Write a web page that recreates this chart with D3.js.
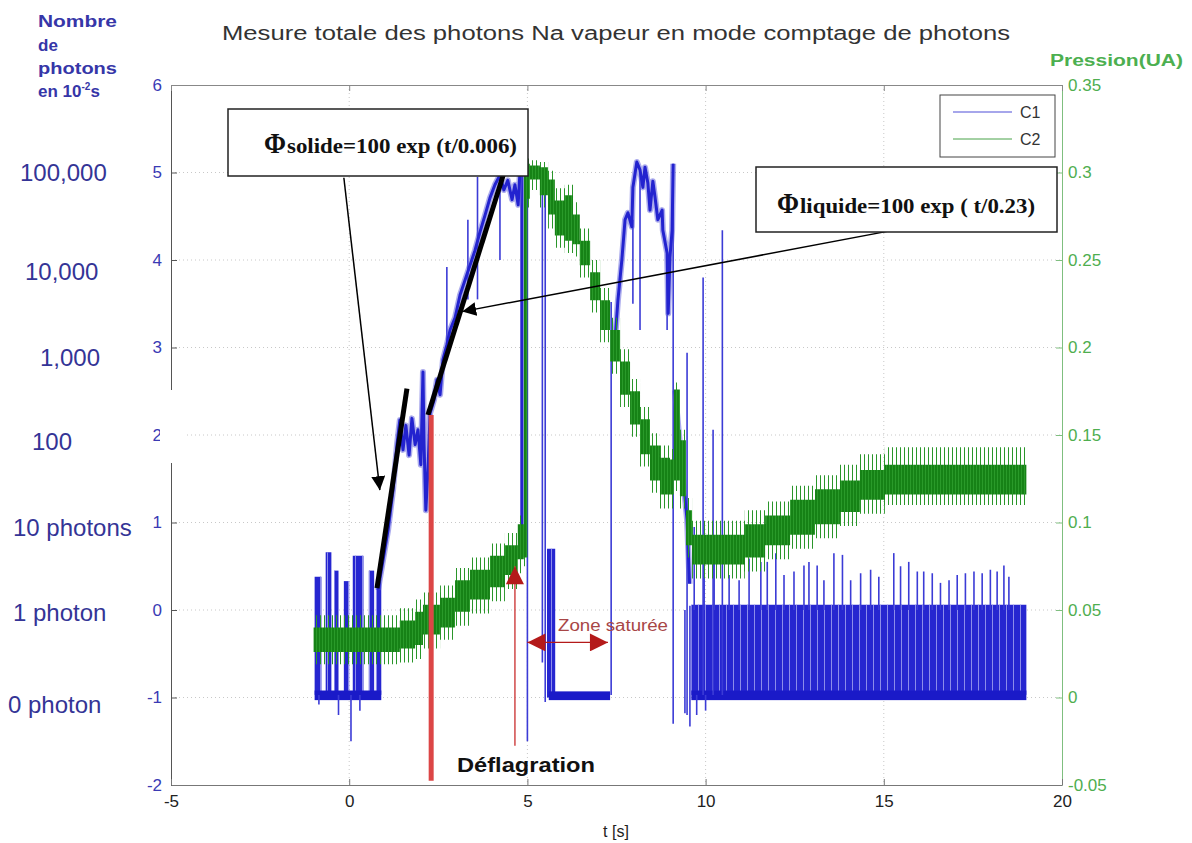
<!DOCTYPE html>
<html><head><meta charset="utf-8">
<script src="https://cdn.jsdelivr.net/npm/d3@7/dist/d3.min.js"></script>
<style>body{margin:0;background:#fff;} svg{display:block;font-family:"Liberation Sans",Arial,sans-serif;}</style>
</head><body><svg id="c" width="1192" height="843"></svg>
<script>
// ---------------- DATA ----------------
const title = "Mesure totale des photons Na vapeur en mode comptage de photons";
const xTicks = [-5, 0, 5, 10, 15, 20];
const yLeftTicks = [-2, -1, 0, 1, 2, 3, 4, 5, 6];
const yRightTicks = [-0.05, 0, 0.05, 0.1, 0.15, 0.2, 0.25, 0.3, 0.35];
const yRightLabels = ["-0.05", "0", "0.05", "0.1", "0.15", "0.2", "0.25", "0.3", "0.35"];
const photonLabels = ["100,000", "10,000", "1,000", "100", "10 photons", "1 photon", "0 photon"];
const photonLevels = [5, 4, 3, 2, 1, 0, -1];
const seriesNames = ["C1", "C2"];

// C2 (pressure, right axis): stepped band envelope
const c2Time = [-1.0, 1.42, 1.85, 2.07, 2.55, 2.97, 3.39, 3.95, 4.37, 4.73, 4.9, 5.0, 5.07, 5.35, 5.58, 5.77, 6.05, 6.28, 6.47, 6.76, 7.04, 7.32, 7.6, 7.88, 8.16, 8.44, 8.72, 9.0, 9.11, 9.28, 9.45, 9.62, 10.4, 11.1, 11.67, 12.37, 13.07, 13.77, 14.33, 15.03, 19.0];
const c2Low  = [0.026, 0.028, 0.030, 0.036, 0.040, 0.049, 0.056, 0.063, 0.070, 0.079, 0.080, 0.285, 0.296, 0.287, 0.276, 0.264, 0.261, 0.259, 0.247, 0.227, 0.210, 0.192, 0.173, 0.156, 0.139, 0.124, 0.116, 0.116, 0.124, 0.115, 0.087, 0.076, 0.076, 0.080, 0.087, 0.093, 0.099, 0.106, 0.113, 0.116, 0.117];
const c2High = [0.040, 0.044, 0.049, 0.053, 0.057, 0.067, 0.073, 0.081, 0.087, 0.099, 0.300, 0.305, 0.304, 0.303, 0.296, 0.284, 0.287, 0.276, 0.261, 0.243, 0.227, 0.210, 0.192, 0.175, 0.159, 0.144, 0.137, 0.136, 0.176, 0.147, 0.107, 0.093, 0.093, 0.099, 0.104, 0.113, 0.119, 0.124, 0.130, 0.133, 0.133];
const c2WhiskLow  = [0.019, 0.020, 0.022, 0.028, 0.033, 0.041, 0.048, 0.055, 0.062, 0.071, 0.075, 0.280, 0.290, 0.280, 0.268, 0.257, 0.254, 0.252, 0.240, 0.220, 0.203, 0.185, 0.166, 0.149, 0.132, 0.117, 0.108, 0.108, 0.118, 0.108, 0.080, 0.068, 0.068, 0.072, 0.079, 0.085, 0.091, 0.098, 0.105, 0.110, 0.111];
const c2WhiskHigh = [0.047, 0.051, 0.056, 0.060, 0.064, 0.074, 0.080, 0.088, 0.094, 0.104, 0.304, 0.308, 0.307, 0.306, 0.301, 0.291, 0.293, 0.283, 0.268, 0.250, 0.234, 0.217, 0.199, 0.182, 0.166, 0.151, 0.144, 0.142, 0.180, 0.153, 0.114, 0.101, 0.101, 0.107, 0.112, 0.121, 0.127, 0.133, 0.139, 0.143, 0.143];

// C1 (photon counts, left axis, log scale units)
// dense bursts: [tStart, tEnd, low, high]
const c1Bursts = [
  [-0.97, -0.78, -0.97, 0.38], [-0.66, -0.50, -0.97, 0.66], [-0.42, -0.30, -0.97, 0.45],
  [-0.15, 0.00, -0.97, 0.33], [0.10, 0.40, -0.97, 0.62], [0.55, 0.70, -0.97, 0.45],
  [0.75, 0.90, -0.97, 0.35], [4.80, 5.00, 0.75, 5.0], [5.55, 5.78, -1.0, 0.7],
  [9.60, 19.0, -0.97, 0.06]
];
// baselines (0 photon level): [tStart, tEnd, low, high]
const c1Bases = [[-0.97, 0.90, -1.03, -0.92], [5.60, 7.32, -1.03, -0.93], [9.60, 19.0, -1.03, -0.92]];
// single vertical spikes: [t, low, high]
const c1Spikes = [
  [-0.85, -1.08, -0.97], [-0.3, -1.2, -0.97], [0.05, -1.5, -0.97], [0.3, -1.15, -0.97],
  [2.74, 2.97, 3.92], [3.33, 3.55, 4.46], [3.6, 3.55, 4.95], [4.23, 4.0, 4.95],
  [5.0, -1.5, 5.0], [5.42, -0.6, 5.0], [5.5, -1.05, 4.9], [7.35, -0.97, 3.52],
  [7.96, 3.5, 4.46], [8.16, 3.2, 5.03], [8.92, 3.2, 4.08], [9.09, -1.3, 5.1],
  [9.48, -1.2, 2.94], [9.93, -0.97, 3.8], [10.21, -0.97, 2.06], [10.47, -0.97, 4.34],
  [9.42, -1.18, 0.0], [9.56, -1.33, 0.05], [9.75, -1.2, -0.97], [10.0, -1.15, -0.97],
  [9.68, 0, 0.95], [9.96, 0, 0.84], [10.24, 0, 0.69], [10.66, 0, 0.40], [10.94, 0, 0.34],
  [11.22, 0, 0.59], [11.55, 0, 0.55], [11.73, 0, 0.55], [11.97, 0, 0.65], [12.2, 0, 0.40],
  [12.48, 0, 0.44], [12.76, 0, 0.51], [12.9, 0, 0.55], [13.13, 0, 0.51], [13.32, 0, 0.34],
  [13.6, 0, 0.65], [13.84, 0, 0.63], [14.07, 0, 0.34], [14.35, 0, 0.42], [14.63, 0, 0.46],
  [14.86, 0, 0.38], [15.28, 0, 0.65], [15.47, 0, 0.50], [15.7, 0, 0.55], [15.94, 0, 0.44],
  [16.12, 0, 0.44], [16.36, 0, 0.42], [16.59, 0, 0.31], [16.83, 0, 0.34], [17.06, 0, 0.40],
  [17.29, 0, 0.42], [17.53, 0, 0.44], [17.76, 0, 0.42], [17.99, 0, 0.46], [18.18, 0, 0.44],
  [18.37, 0, 0.51], [18.51, 0, 0.38]
];
// continuous trace parts: [t, value]
const c1Rise = [[0.81,0.23],[0.95,0.57],[1.09,0.91],[1.23,1.37],[1.34,1.89],[1.42,2.17],[1.51,1.83],[1.59,2.11],[1.68,1.77],[1.76,2.19],[1.85,1.89],[1.93,2.06],[2.01,1.66],[2.07,2.72],[2.1,1.9],[2.15,1.14],[2.21,1.6],[2.27,2.25],[2.38,2.4],[2.46,2.63],[2.55,2.46],[2.63,2.86],[2.74,3.03],[2.83,3.2],[2.97,3.34],[3.11,3.6],[3.25,3.77],[3.39,3.94],[3.53,4.11],[3.67,4.32],[3.81,4.51],[3.95,4.71],[4.09,4.86],[4.23,4.97],[4.34,4.8],[4.45,4.91],[4.57,4.69],[4.65,4.86],[4.74,4.63],[4.79,5.0]];
const c1Hump = [[7.46,3.09],[7.54,3.54],[7.65,4.0],[7.74,4.46],[7.82,4.54],[7.93,4.38],[7.96,4.83],[8.07,5.12],[8.16,5.03],[8.24,4.83],[8.3,5.06],[8.38,4.88],[8.44,4.57],[8.52,4.9],[8.58,4.72],[8.66,4.46],[8.78,4.57],[8.8,4.34],[8.92,4.08],[8.95,3.39],[9.0,4.03],[9.06,4.34],[9.09,5.1]];
const c1Fall = [[9.14,2.51],[9.3,1.8],[9.48,1.03],[9.55,0.3]];

// ---------------- LAYOUT ----------------
const svg = d3.select("#c");
const L = 171, R = 1062, T = 85, B = 785;
const x = d3.scaleLinear().domain([-5, 20]).range([L, R]);
const yL = d3.scaleLinear().domain([-2, 6]).range([B, T]);
const yR = d3.scaleLinear().domain([-0.05, 0.35]).range([B, T]);
const BLUE = "#2323cf", GREEN = "#1d8c1d";
const SANS = "Liberation Sans, Arial, sans-serif";

const defs = svg.append("defs");
const bp = defs.append("pattern").attr("id", "blueStripe").attr("patternUnits", "userSpaceOnUse").attr("width", 7).attr("height", 8);
bp.append("rect").attr("x", 5).attr("width", 1).attr("height", 8).attr("fill", "#8c8cea");
const gp = defs.append("pattern").attr("id", "greenPat").attr("patternUnits", "userSpaceOnUse").attr("width", 3).attr("height", 8);
gp.append("rect").attr("width", 3).attr("height", 8).attr("fill", "#168216");
gp.append("rect").attr("x", 1).attr("width", 1).attr("height", 8).attr("fill", "#2a9a2a");
const wp = defs.append("pattern").attr("id", "whiskPat").attr("patternUnits", "userSpaceOnUse").attr("width", 4).attr("height", 8);
wp.append("rect").attr("x", 0).attr("width", 1).attr("height", 8).attr("fill", "#2a962a");
defs.append("marker").attr("id", "ahBlack").attr("viewBox", "0 0 10 10").attr("refX", 10).attr("refY", 5)
  .attr("markerWidth", 14).attr("markerHeight", 14).attr("markerUnits", "userSpaceOnUse").attr("orient", "auto")
  .append("path").attr("d", "M0,0 L10,5 L0,10 Z").attr("fill", "#000");
defs.append("marker").attr("id", "ahRed").attr("viewBox", "0 0 10 10").attr("refX", 10).attr("refY", 5)
  .attr("markerWidth", 25).attr("markerHeight", 18).attr("markerUnits", "userSpaceOnUse").attr("orient", "auto-start-reverse")
  .append("path").attr("d", "M0,0 L10,5 L0,10 Z").attr("fill", "#b41a1a");

// grid
const grid = svg.append("g").attr("stroke", "#c8c8c8").attr("stroke-dasharray", "1,3").attr("stroke-width", 1);
xTicks.slice(1, -1).forEach(t => grid.append("line").attr("x1", x(t)).attr("x2", x(t)).attr("y1", T).attr("y2", B));
yLeftTicks.slice(1, -1).forEach(v => grid.append("line").attr("x1", L).attr("x2", R).attr("y1", yL(v)).attr("y2", yL(v)));

// ---- C1 ----
const g1 = svg.append("g");
const burstRect = sel => sel.attr("x", d => x(d[0])).attr("width", d => x(d[1]) - x(d[0]))
  .attr("y", d => yL(d[3])).attr("height", d => yL(d[2]) - yL(d[3]));
g1.selectAll("rect.burst").data(c1Bursts).join("rect").attr("class", "burst").call(burstRect).attr("fill", "#2626d0");
g1.selectAll("rect.burstS").data(c1Bursts).join("rect").attr("class", "burstS").call(burstRect).attr("fill", "url(#blueStripe)");
g1.selectAll("rect.base").data(c1Bases).join("rect").attr("class", "base").call(burstRect).attr("fill", "#1a1ac8");
g1.selectAll("line.spike").data(c1Spikes).join("line").attr("class", "spike")
  .attr("x1", d => x(d[0])).attr("x2", d => x(d[0])).attr("y1", d => yL(d[1])).attr("y2", d => yL(d[2]))
  .attr("stroke", "#3b3bd6").attr("stroke-width", 1.6);
const lineL = d3.line().x(d => x(d[0])).y(d => yL(d[1]));
[c1Rise, c1Hump, c1Fall].forEach(s => {
  g1.append("path").attr("d", lineL(s)).attr("fill", "none")
    .attr("stroke", "#5a5adc").attr("stroke-width", 6).attr("stroke-opacity", 0.5).attr("stroke-linejoin", "round");
  g1.append("path").attr("d", lineL(s)).attr("fill", "none")
    .attr("stroke", BLUE).attr("stroke-width", 3).attr("stroke-linejoin", "round");
});

// ---- C2 ----
const c2 = c2Time.map((t, i) => ({t, lo: c2Low[i], hi: c2High[i], wlo: c2WhiskLow[i], whi: c2WhiskHigh[i]}));
const g2 = svg.append("g");
g2.append("path").attr("d", d3.area().curve(d3.curveStepAfter).x(d => x(d.t)).y0(d => yR(d.wlo)).y1(d => yR(d.whi))(c2))
  .attr("fill", "url(#whiskPat)");
g2.append("path").attr("d", d3.area().curve(d3.curveStepAfter).x(d => x(d.t)).y0(d => yR(d.lo)).y1(d => yR(d.hi))(c2))
  .attr("fill", "url(#greenPat)");

// ---- Axes ----
const axL = svg.append("g").attr("transform", `translate(${L},0)`)
  .call(d3.axisLeft(yL).tickValues(yLeftTicks).tickFormat(d => String(d)).tickSizeInner(-6).tickSizeOuter(0).tickPadding(9));
axL.select(".domain").attr("stroke", "#555");
axL.selectAll(".tick line").attr("stroke", "#555");
axL.selectAll("text").attr("fill", "#3a3ab4").attr("font-size", 17).attr("font-family", SANS);

const axR = svg.append("g").attr("transform", `translate(${R},0)`)
  .call(d3.axisRight(yR).tickValues(yRightTicks).tickFormat((d, i) => yRightLabels[i]).tickSizeInner(-6).tickSizeOuter(0).tickPadding(6));
axR.select(".domain").attr("stroke", "#7fbf7f");
axR.selectAll(".tick line").attr("stroke", "#7fbf7f");
axR.selectAll("text").attr("fill", "#4fae4f").attr("font-size", 17).attr("font-family", SANS);

const axB = svg.append("g").attr("transform", `translate(0,${B})`)
  .call(d3.axisBottom(x).tickValues(xTicks).tickFormat(d => String(d)).tickSizeInner(-6).tickSizeOuter(0).tickPadding(10));
axB.select(".domain").attr("stroke", "#777");
axB.selectAll(".tick line").attr("stroke", "#777");
axB.selectAll("text").attr("fill", "#222").attr("font-size", 17).attr("font-family", SANS);

const axT = svg.append("g").attr("transform", `translate(0,${T})`)
  .call(d3.axisTop(x).tickValues(xTicks).tickFormat("").tickSizeInner(-6).tickSizeOuter(0));
axT.select(".domain").attr("stroke", "#888");
axT.selectAll(".tick line").attr("stroke", "#888");

// white patch over the "2" label
svg.append("rect").attr("x", 160).attr("y", 390).attr("width", 26).attr("height", 73).attr("fill", "#fff");

// title & axis titles
svg.append("text").attr("x", 222).attr("y", 40).attr("font-size", 20).attr("fill", "#333")
  .attr("textLength", 788).attr("lengthAdjust", "spacingAndGlyphs").text(title);
svg.append("text").attr("x", 616).attr("y", 837).attr("text-anchor", "middle").attr("font-size", 16).attr("fill", "#222").text("t [s]");
svg.append("text").attr("x", 1050).attr("y", 66).attr("font-size", 16).attr("font-weight", "bold").attr("fill", "#4caf50")
  .attr("textLength", 133).attr("lengthAdjust", "spacingAndGlyphs").text("Pression(UA)");
const nb = svg.append("g").attr("font-size", 17).attr("font-weight", "bold").attr("fill", "#3636a8");
nb.append("text").attr("x", 38).attr("y", 27).attr("textLength", 79).attr("lengthAdjust", "spacingAndGlyphs").text("Nombre");
nb.append("text").attr("x", 38).attr("y", 51).text("de");
nb.append("text").attr("x", 38).attr("y", 74).attr("textLength", 79).attr("lengthAdjust", "spacingAndGlyphs").text("photons");
const en = nb.append("text").attr("x", 38).attr("y", 97);
en.append("tspan").text("en 10");
en.append("tspan").attr("font-size", 10).attr("dy", -7).text("-2");
en.append("tspan").attr("dy", 7).text("s");

// photon count labels
const photonX = [20, 25, 40, 32, 13, 13, 8];
const photonDy = [8, 20, 18, 15, 13, 11, 15];
svg.append("g").selectAll("text").data(photonLabels).join("text")
  .attr("x", (d, i) => photonX[i]).attr("y", (d, i) => yL(photonLevels[i]) + photonDy[i])
  .attr("font-size", 24).attr("fill", "#343496").text(d => d);

// legend
const lg = svg.append("g");
lg.append("rect").attr("x", 940).attr("y", 95).attr("width", 115).attr("height", 62).attr("fill", "#fff").attr("stroke", "#444");
[BLUE, GREEN].forEach((c, i) => {
  const yy = 112 + i * 27;
  lg.append("line").attr("x1", 953).attr("x2", 1012).attr("y1", yy).attr("y2", yy).attr("stroke", c).attr("stroke-width", 1).attr("opacity", 0.8);
  lg.append("text").attr("x", 1020).attr("y", yy + 6).attr("font-size", 16).attr("fill", "#333").text(seriesNames[i]);
});

// annotations (in data units through scales)
const ann = svg.append("g");
ann.append("line").attr("x1", x(0.78)).attr("y1", yL(0.25)).attr("x2", x(1.62)).attr("y2", yL(2.53)).attr("stroke", "#000").attr("stroke-width", 5);
ann.append("line").attr("x1", x(2.21)).attr("y1", yL(2.23)).attr("x2", x(4.43)).attr("y2", yL(5.11)).attr("stroke", "#000").attr("stroke-width", 5);
ann.append("line").attr("x1", x(-0.15)).attr("y1", yL(4.94)).attr("x2", x(0.86)).attr("y2", yL(1.37)).attr("stroke", "#000").attr("stroke-width", 1.5).attr("marker-end", "url(#ahBlack)");
ann.append("line").attr("x1", x(15.65)).attr("y1", yL(4.37)).attr("x2", x(3.17)).attr("y2", yL(3.41)).attr("stroke", "#000").attr("stroke-width", 1.5).attr("marker-end", "url(#ahBlack)");
ann.append("line").attr("x1", x(2.3)).attr("x2", x(2.3)).attr("y1", yL(2.23)).attr("y2", yL(-1.95)).attr("stroke", "#dc4646").attr("stroke-width", 5);
ann.append("line").attr("x1", x(4.65)).attr("x2", x(4.65)).attr("y1", yL(-1.55)).attr("y2", yL(0.5)).attr("stroke", "#d04848").attr("stroke-width", 1.5).attr("marker-end", "url(#ahRed)");
ann.append("line").attr("x1", x(5.0)).attr("x2", x(7.26)).attr("y1", yL(-0.37)).attr("y2", yL(-0.37)).attr("stroke", "#b41a1a").attr("stroke-width", 1.2)
  .attr("marker-start", "url(#ahRed)").attr("marker-end", "url(#ahRed)");
ann.append("text").attr("x", 558).attr("y", 631).attr("font-size", 16).attr("font-family", SANS).attr("fill", "#a84646")
  .attr("textLength", 110).attr("lengthAdjust", "spacingAndGlyphs").text("Zone saturée");
ann.append("text").attr("x", 457).attr("y", 772).attr("font-size", 20).attr("font-family", SANS).attr("font-weight", "bold").attr("fill", "#111")
  .attr("textLength", 138).attr("lengthAdjust", "spacingAndGlyphs").text("Déflagration");

// formula boxes
function box(x0, y0, w, h, phiX, restX, restLen, ty, sub, rest) {
  const g = svg.append("g").attr("font-family", "Liberation Serif, Times New Roman, serif").attr("font-weight", "bold").attr("fill", "#111");
  g.append("rect").attr("x", x0).attr("y", y0).attr("width", w).attr("height", h).attr("fill", "#fff").attr("stroke", "#222").attr("stroke-width", 1.5);
  g.append("text").attr("x", phiX).attr("y", ty).attr("font-size", 30).attr("textLength", 22).attr("lengthAdjust", "spacingAndGlyphs").text("Φ");
  g.append("text").attr("x", restX).attr("y", ty).attr("font-size", 20).attr("textLength", restLen).attr("lengthAdjust", "spacingAndGlyphs").text(sub + rest);
}
box(228, 109, 300, 67, 264, 287, 230, 153, "solide", "=100 exp (t/0.006)");
box(756, 167, 301, 65, 777, 800, 235, 213, "liquide", "=100 exp ( t/0.23)");
</script></body></html>
